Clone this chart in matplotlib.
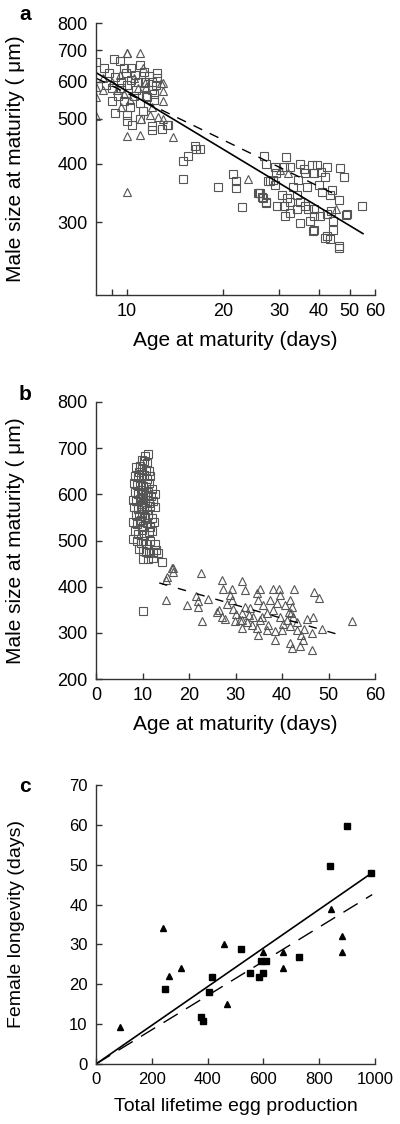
"""Three-panel figure: male size vs age at maturity (log and linear), female longevity vs egg production."""
import matplotlib
matplotlib.use("Agg")
import matplotlib.pyplot as plt
from matplotlib.ticker import FixedLocator, NullFormatter, NullLocator

plt.rcParams["font.family"] = ["Liberation Sans", "DejaVu Sans"]

# ---- panel a (log-log) ------------------------------------------------------
a_sq_age = [8.0, 8.5, 9.1, 9.5, 9.8, 8.8, 9.2, 9.6, 10.0, 10.3, 10.6, 11.0, 11.3, 11.7, 12.0,
            12.3, 12.0, 11.5, 9.0, 9.4, 9.8, 10.2, 10.0, 10.0, 10.4, 9.2, 9.0, 11.0, 11.2, 11.0,
            11.6, 12.2, 12.2, 12.4, 12.4, 10.7, 10.5, 9.6, 8.6, 12.0, 12.0, 13.5, 11.4, 10.8,
            10.3, 9.9,
            12.9, 13.4, 15.0, 15.5, 16.4, 16.9, 16.5, 15.0, 19.3, 21.5, 22.0, 22.0, 23.0, 26.0,
            26.5, 27.4, 27.7, 26.9, 25.8,
            31.6, 27.3, 29.1, 29.3, 28.7, 28.1, 29.1, 31.0, 32.5, 34.9, 38.1, 39.4, 42.3, 46.6,
            47.9, 36.2, 38.5, 34.4, 41.8, 33.3, 36.6, 39.9, 40.8, 43.4, 30.6, 31.7, 32.5, 29.5,
            31.0, 26.1, 26.7, 27.4, 34.1, 34.9, 36.2, 37.1, 38.5, 34.1, 32.5, 31.4, 38.5, 40.3,
            42.3, 43.8, 46.1, 49.0, 34.9, 37.6, 44.4, 44.4, 38.5, 42.3, 43.4, 46.1, 54.5, 38.4,
            41.8, 46.3, 48.5, 36.0, 40.5, 44.0]
a_sq_size = [661, 640, 669, 664, 640, 625, 612, 600, 590, 605, 620, 650, 630, 615, 600,
             590, 575, 560, 580, 560, 545, 530, 510, 495, 485, 515, 545, 540, 520, 500,
             555, 548, 565, 610, 625, 575, 560, 580, 590, 482, 473, 485, 600, 600,
             640, 625,
             476, 484, 405, 415, 437, 431, 430, 371, 357, 380, 368, 355, 323, 347,
             340, 332, 368, 415, 346,
             414, 399, 395, 382, 370, 367, 361, 395, 395, 399, 397, 397, 395, 392,
             376, 382, 382, 370, 376, 358, 358, 361, 349, 343, 343, 338, 332, 325,
             325, 346, 338, 330, 343, 332, 325, 320, 320, 320, 315, 309, 309, 309,
             312, 317, 335, 312, 299, 302, 302, 289, 289, 280, 276, 267, 325, 287,
             278, 264, 311, 390, 385, 352]
a_tri_age = [10.0, 11.0, 13.0, 13.0, 13.0, 13.0, 14.0, 10.0, 11.0, 8.0, 8.0, 8.0, 9.0, 9.5,
             10.5, 11.5, 12.0, 10.2, 9.6, 11.2, 8.4, 11.8, 12.5, 10.8, 9.3, 12.8, 11.1, 8.4,
             10.0, 24.0, 10.0, 32.1, 45.3, 30.2, 9.8, 11.4]
a_tri_size = [689, 691, 597, 574, 546, 499, 456, 459, 461, 557, 584, 507, 600, 620,
              610, 585, 530, 548, 530, 640, 610, 510, 505, 580, 575, 596, 500, 576,
              690, 372, 349, 382, 320, 389, 565, 595]
a_solid_age = [8.0, 55.0]
a_solid_size = [627, 284]
a_dash_age = [8.0, 46.0]
a_dash_size = [610, 342]

# ---- panel b (linear) -------------------------------------------------------
b_sq_age = [11.2, 10.6, 9.8, 10.4, 11.0, 9.4, 8.6, 9.9, 10.8, 11.5, 9.2, 8.3, 9.0, 9.7,
            10.3, 10.9, 11.6, 8.1, 8.8, 9.5, 10.1, 10.7, 11.3, 12.0, 8.4, 9.1, 9.8, 10.5,
            11.1, 11.8, 12.6, 7.9, 8.7, 9.4, 10.0, 10.6, 11.4, 12.2, 8.2, 9.0, 9.6, 10.3,
            11.0, 11.7, 12.6, 8.5, 9.3, 9.9, 10.5, 11.2, 12.0, 7.9, 8.8, 9.5, 10.2, 10.9,
            11.6, 12.4, 8.3, 9.1, 9.8, 10.4, 11.3, 12.0, 8.0, 8.9, 9.6, 10.1, 10.8, 11.7,
            12.6, 9.3, 10.0, 10.7, 11.4, 12.3, 13.0, 13.4, 10.0, 11.2, 12.3, 14.2, 10.0,
            9.7, 10.2, 9.9, 10.4, 9.6, 10.1]
b_sq_size = [688, 683, 675, 672, 668, 662, 660, 655, 652, 650, 648, 640, 638, 636,
             642, 634, 640, 625, 620, 622, 618, 615, 625, 612, 605, 600, 602, 598,
             605, 597, 600, 588, 585, 590, 583, 588, 582, 585, 572, 568, 575, 570,
             566, 574, 572, 555, 552, 558, 550, 556, 549, 540, 535, 542, 532, 538,
             530, 540, 520, 515, 522, 512, 518, 520, 503, 498, 495, 500, 492, 500,
             492, 482, 478, 475, 472, 475, 480, 474, 460, 461, 463, 453, 348,
             610, 595, 580, 565, 545, 590]
b_tri_age = [16.6, 16.6, 22.5, 15.1, 16.3, 15.2, 15.0, 19.5, 21.5, 22.0, 22.0, 24.1, 22.9,
             27.0, 27.4, 29.2, 31.5, 28.8, 29.2, 26.0, 27.0, 27.8, 29.9, 31.5, 31.5, 32.0,
             34.6, 35.3, 38.0, 39.3, 39.6, 42.5, 34.9, 36.0, 37.5, 38.9, 40.7, 41.8, 42.2,
             41.4, 32.0, 33.1, 31.3, 32.8, 30.9, 32.4, 33.8, 35.3, 36.7, 38.1, 39.6, 41.0,
             42.4, 43.2, 34.6, 36.7, 38.5, 39.9, 41.7, 43.2, 34.9, 38.5, 41.7, 42.2, 43.9,
             44.6, 46.4, 48.6, 46.4, 45.3, 46.7, 48.0, 46.9, 55.0, 30.0, 29.5, 37.0, 40.2,
             42.0, 44.0, 35.8, 33.5, 28.2, 44.8, 26.4]
b_tri_size = [440, 432, 429, 414, 441, 421, 371, 361, 380, 368, 356, 374, 325,
              415, 396, 396, 413, 381, 371, 346, 335, 331, 325, 328, 310, 393,
              386, 396, 394, 394, 381, 394, 371, 361, 371, 364, 361, 371, 357,
              346, 356, 353, 342, 338, 328, 324, 335, 328, 342, 350, 335, 328,
              335, 324, 310, 306, 303, 306, 314, 306, 296, 285, 278, 267, 271,
              285, 299, 308, 263, 331, 335, 375, 388, 325, 340, 352, 318, 320,
              342, 295, 335, 318, 362, 308, 349]
b_dash_age = [13.6, 52.6]
b_dash_size = [408, 295]

# ---- panel c ----------------------------------------------------------------
c_sq_eggs = [248, 416, 406, 375, 385, 521, 553, 583, 591, 609, 600, 726, 839, 901, 985]
c_sq_days = [18.9, 21.9, 18.0, 11.9, 10.9, 28.8, 22.9, 21.9, 25.8, 25.8, 22.9, 26.8, 49.7, 59.6, 47.8]
c_tri_eggs = [87, 239, 263, 304, 458, 468, 600, 669, 669, 841, 882, 882]
c_tri_days = [9.2, 34.0, 22.0, 24.1, 30.1, 15.0, 28.0, 28.0, 24.0, 38.9, 32.0, 28.0]
c_solid_eggs = [0, 990]
c_solid_days = [0, 48.0]
c_dash_eggs = [0, 990]
c_dash_days = [0, 42.5]

W, H = 400, 1124
fig = plt.figure(figsize=(W / 100, H / 100), dpi=100)

MARK = "#555555"
open_kw = dict(linestyle="none", markerfacecolor="none", markeredgecolor=MARK,
               markeredgewidth=0.8, markersize=5.5)


def px_axes(left, top, right, bottom):
    return fig.add_axes([left / W, 1 - bottom / H, (right - left) / W, (bottom - top) / H])


def style(ax):
    for s in ("top", "right"):
        ax.spines[s].set_visible(False)
    for s in ("left", "bottom"):
        ax.spines[s].set_linewidth(1.0)
        ax.spines[s].set_color("#333333")
    ax.tick_params(direction="in", length=4, width=1.0, color="#333333",
                   labelsize=13, pad=6)
    ax.tick_params(which="minor", direction="in", length=4, width=1.0, color="#333333")


# panel a
ax = px_axes(96, 23, 375, 295)
ax.set_xscale("log")
ax.set_yscale("log")
ax.plot(a_sq_age, a_sq_size, marker="s", **open_kw)
ax.plot(a_tri_age, a_tri_size, marker="^", **open_kw)
ax.plot(a_solid_age, a_solid_size, color="black", lw=1.2)
ax.plot(a_dash_age, a_dash_size, color="black", lw=1.0, dashes=(7, 6))
ax.set_xlim(8, 60)
ax.set_ylim(210, 800)
ax.xaxis.set_major_locator(FixedLocator([10, 20, 30, 40, 50, 60]))
ax.xaxis.set_minor_locator(FixedLocator([9]))
ax.xaxis.set_major_formatter(plt.FixedFormatter(["10", "20", "30", "40", "50", "60"]))
ax.xaxis.set_minor_formatter(NullFormatter())
ax.yaxis.set_major_locator(FixedLocator([300, 400, 500, 600, 700, 800]))
ax.yaxis.set_major_formatter(plt.FixedFormatter(["300", "400", "500", "600", "700", "800"]))
ax.yaxis.set_minor_locator(NullLocator())
ax.yaxis.set_minor_formatter(NullFormatter())
style(ax)
ax.set_xlabel("Age at maturity (days)", fontsize=15, labelpad=8)
ax.set_ylabel("Male size at maturity ( μm)", fontsize=15)
ax.yaxis.set_label_coords(-71 / 279, 0.5)

# panel b
ax = px_axes(96, 402, 375, 679)
ax.plot(b_sq_age, b_sq_size, marker="s", **open_kw)
ax.plot(b_tri_age, b_tri_size, marker="^", **open_kw)
ax.plot(b_dash_age, b_dash_size, color="black", lw=1.0, dashes=(6, 8))
ax.set_xlim(0, 60)
ax.set_ylim(200, 800)
ax.set_xticks(range(0, 61, 10))
ax.set_yticks(range(200, 801, 100))
style(ax)
ax.set_xlabel("Age at maturity (days)", fontsize=15, labelpad=8)
ax.set_ylabel("Male size at maturity ( μm)", fontsize=15)
ax.yaxis.set_label_coords(-71 / 279, 0.5)

# panel c
ax = px_axes(96, 785, 375, 1064)
ax.plot(c_sq_eggs, c_sq_days, marker="s", linestyle="none", color="black", markersize=5)
ax.plot(c_tri_eggs, c_tri_days, marker="^", linestyle="none", color="black", markersize=5)
ax.plot(c_solid_eggs, c_solid_days, color="black", lw=1.2)
ax.plot(c_dash_eggs, c_dash_days, color="black", lw=1.0, dashes=(12, 7))
ax.set_xlim(0, 1000)
ax.set_ylim(0, 70)
ax.set_xticks(range(0, 1001, 200))
ax.set_yticks(range(0, 71, 10))
style(ax)
ax.tick_params(labelsize=12)
ax.set_xlabel("Total lifetime egg production", fontsize=14, labelpad=8)
ax.set_ylabel("Female longevity (days)", fontsize=14)
ax.yaxis.set_label_coords(-71 / 279, 0.5)

for letter, y in (("a", 15), ("b", 394), ("c", 787)):
    fig.text(25 / W, 1 - y / H, letter, fontsize=15, fontweight="bold",
             ha="center", va="center")

fig.savefig("out.png", dpi=100)
